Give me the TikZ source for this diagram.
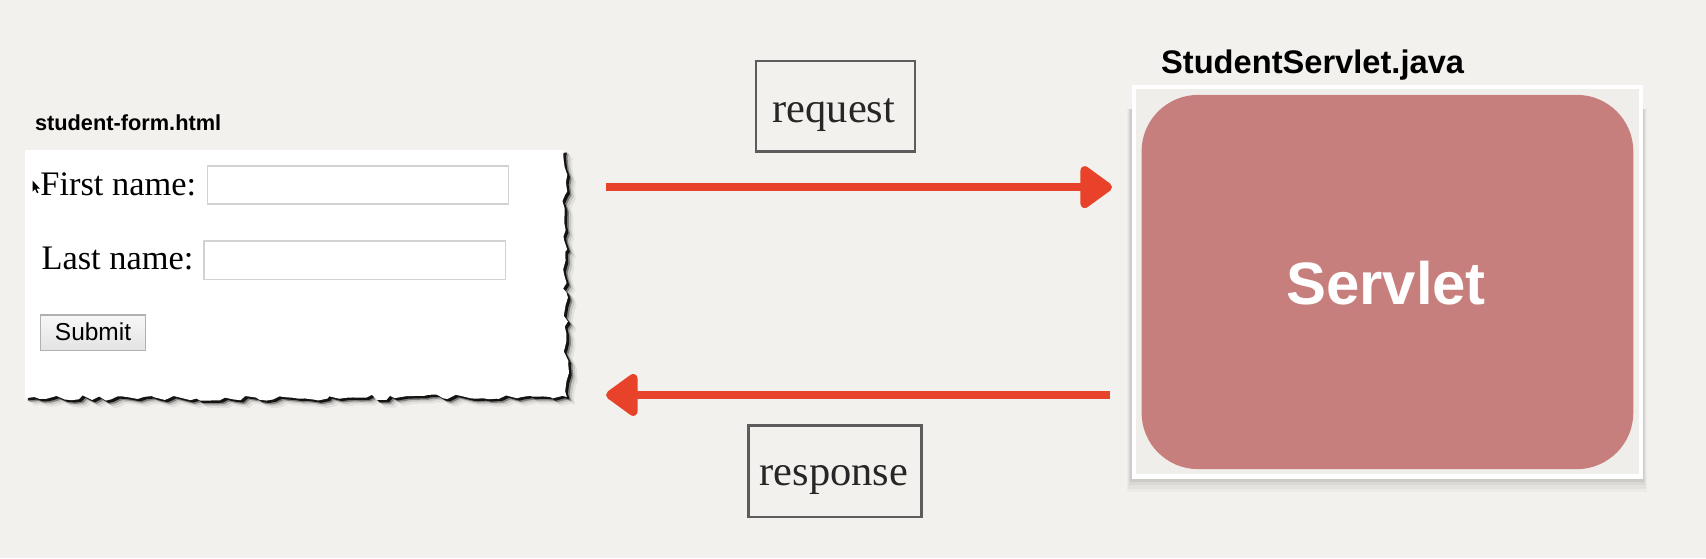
\documentclass[tikz,border=0pt]{standalone}
\usepackage{fontspec}
\newfontfamily\arialf{Liberation Sans}
\newfontfamily\timesf{Liberation Serif}
\usetikzlibrary{arrows.meta,decorations.pathmorphing}
\definecolor{bg}{HTML}{F3F1ED}
\definecolor{bginner}{HTML}{F0EEEA}
\definecolor{arrowred}{HTML}{E8432A}
\definecolor{servred}{HTML}{C77F7D}
\definecolor{fieldgray}{HTML}{D2D2D2}
\definecolor{btngray}{HTML}{B0B0B0}
\definecolor{boxgray}{HTML}{5C5C5C}
\begin{document}
\begin{tikzpicture}[x=1pt,y=-1pt,
  lbl/.style={inner sep=0pt, anchor=base west},
  formtxt/.style={lbl, font=\timesf\fontsize{31.6}{36}\selectfont},
  field/.style={draw=fieldgray, line width=1.2pt, fill=white, anchor=north west,
    minimum width=277pt, minimum height=35pt, inner sep=0pt},
  msgbox/.style={draw=boxgray, line width=2.4pt, inner sep=0pt},
  msgtxt/.style={inner sep=0pt, anchor=base, font=\timesf\fontsize{39}{44}\selectfont, text=black!85},
  flow/.style={draw=arrowred, line width=8pt,
    -{Triangle[length=32pt,width=44pt,round]}},
  jagdeco/.style={decoration={random steps, segment length=6pt, amplitude=2.6pt}}
]
\fill[bg] (0,0) rectangle (1568,513);
\useasboundingbox (0,0) rectangle (1568,513);

% ---------- left: the HTML form ----------
\node[lbl, font=\arialf\bfseries\fontsize{20}{24}\selectfont] (formtitle) at (32,120) {student-form.html};

\foreach \sx/\sy/\op in {8/7/0.06,6/5/0.12,4/3.5/0.35,2.5/2.2/0.85}{
  \pgfmathsetseed{23}
  \fill[black, opacity=\op, shift={(\sx,\sy)}] (23,138) -- (519,138) decorate[jagdeco]{ -- (521,365) -- (23,366)} -- cycle;
}
\pgfmathsetseed{23}
\fill[white] (23,138) -- (519,138) decorate[jagdeco]{ -- (521,365) -- (23,366)} -- cycle;

\node[formtxt] (fn) at (37,180) {First name:};
\node[field] (fnfield) at (190,152) {};
\node[formtxt] (ln) at (38,248) {Last name:};
\node[field] (lnfield) at (187,221) {};
\node[draw=btngray, line width=1pt, top color=white!97!black, bottom color=white!89!black,
  minimum width=96pt, minimum height=33pt, anchor=north west, inner sep=0pt] (submit) at (37,289) {};
\node[lbl, anchor=base, font=\arialf\fontsize{22.5}{26}\selectfont] (submittxt) at ([yshift=-0pt]submit.center |- 0,313) {Submit};
% mouse cursor
\fill[black] (30,166) -- (30,176) -- (32.3,173.8) -- (34,177.6) -- (35.3,177) -- (33.6,173.3) -- (36.6,173.3) -- cycle;

% ---------- middle: request / response ----------
\node[msgbox, minimum width=146pt, minimum height=83pt] (reqbox) at (768,97.7) {};
\node[msgtxt] (reqtxt) at (766.5,112.7) {request};
\node[msgbox, minimum width=159pt, minimum height=84pt] (resbox) at (767.5,433) {};
\node[msgtxt] (restxt) at (766.5,446.6) {response};

\coordinate (reqS) at (557,172);
\coordinate (reqE) at (1022,172);
\coordinate (resS) at (1020,363);
\coordinate (resE) at (557,363);
\draw[flow] (reqS) -- (reqE);
\draw[flow] (resS) -- (resE);

% ---------- right: the servlet ----------
\node[lbl, font=\arialf\bfseries\fontsize{30}{34}\selectfont] (servtitle) at (1067,68) {StudentServlet.java};
\foreach \o/\a in {12/0.025,9/0.035,6/0.045,3/0.06}
  \fill[black, opacity=\a] (1040-\o/3,100) rectangle (1510+\o/3,440+\o);
\node[fill=white, minimum width=470pt, minimum height=362pt, anchor=north west, inner sep=0pt] (frame) at (1040,78) {};
\fill[bginner] (1044,82) rectangle (1506,436);
\node[fill=servred, rounded corners=52pt, minimum width=452pt, minimum height=344pt,
  anchor=north west, inner sep=0pt] (servlet) at (1049,87) {};
\node[text=white, anchor=base, font=\arialf\bfseries\fontsize{55}{60}\selectfont, inner sep=0pt] (servlbl) at (1274,280) {Servlet};
\end{tikzpicture}
\end{document}
